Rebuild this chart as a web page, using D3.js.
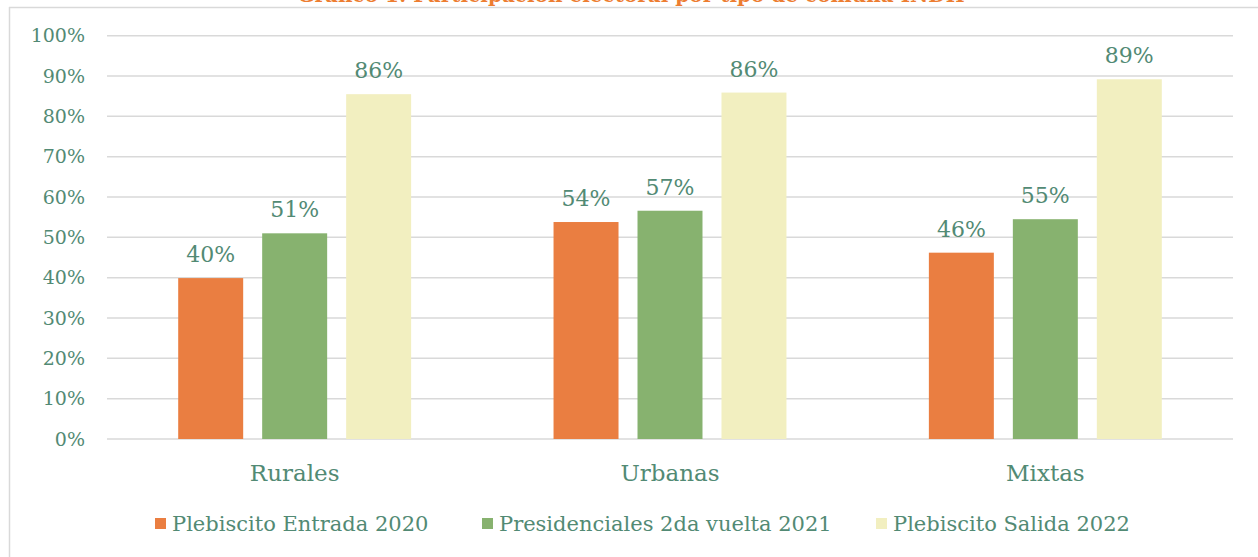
<!DOCTYPE html>
<html>
<head>
<meta charset="utf-8">
<script src="https://cdn.jsdelivr.net/npm/d3@7"></script>
<style>
  html, body { margin: 0; padding: 0; background: #fff; }
  svg { display: block; }
  text { font-family: Georgia, "DejaVu Serif", serif; }
</style>
</head>
<body>
<div id="chart"></div>
<script>
// Gráfico 1: participación electoral por tipo de comuna

const categories = ["Rurales", "Urbanas", "Mixtas"];
const series = ["Plebiscito Entrada 2020", "Presidenciales 2da vuelta 2021", "Plebiscito Salida 2022"];
const entrada2020 = [0.399, 0.538, 0.462];
const presidenciales2021 = [0.510, 0.566, 0.545];
const salida2022 = [0.855, 0.859, 0.892];
const yTicks = [0, 0.1, 0.2, 0.3, 0.4, 0.5, 0.6, 0.7, 0.8, 0.9, 1];

const colors = ["#EA7E41", "#87B26F", "#F2EFC0"];
const textColor = "#528A74";

const W = 1258, H = 557;
const plot = { left: 107, right: 1233, top: 35.7, bottom: 439 };

const values = [entrada2020, presidenciales2021, salida2022];
const rows = [];
categories.forEach((c, i) => {
    series.forEach((s, j) => rows.push({ cat: c, ser: s, idx: j, v: values[j][i] }));
});

const svg = d3.select("#chart").append("svg")
    .attr("width", W)
    .attr("height", H);

// frame (top + left border of the chart area)
svg.append("line")
    .attr("x1", 9).attr("x2", W).attr("y1", 7.5).attr("y2", 7.5)
    .attr("stroke", "#d9d9d9").attr("stroke-width", 1.5);
svg.append("line")
    .attr("x1", 9.5).attr("x2", 9.5).attr("y1", 7).attr("y2", H)
    .attr("stroke", "#d9d9d9").attr("stroke-width", 1.5);

// title, mostly cut off at the top edge (as in the source)
svg.append("text")
    .attr("x", 631).attr("y", 2)
    .attr("text-anchor", "middle")
    .attr("fill", "#ED7D31")
    .style("font-size", "20px")
    .style("font-weight", "bold")
    .text("Gráfico 1: Participación electoral por tipo de comuna INDH");

// scales
const x0 = d3.scaleBand()
    .domain(categories)
    .range([plot.left, plot.right]);

const x1 = d3.scaleBand()
    .domain(series)
    .range([71.2, x0.bandwidth() - 71.2])
    .paddingInner(19 / 84);

const y = d3.scaleLinear()
    .domain([0, 1])
    .range([plot.bottom, plot.top]);

// gridlines
svg.append("g")
    .selectAll("line")
    .data(yTicks)
    .join("line")
    .attr("x1", plot.left).attr("x2", plot.right)
    .attr("y1", d => y(d)).attr("y2", d => y(d))
    .attr("stroke", "#d9d9d9")
    .attr("stroke-width", 1.5);

// y axis labels
const yAxis = svg.append("g")
    .attr("transform", "translate(85,0)")
    .call(d3.axisLeft(y).tickValues(yTicks).tickFormat(d3.format(".0%")).tickSize(0).tickPadding(0));
yAxis.select(".domain").remove();
yAxis.selectAll("text")
    .attr("fill", textColor)
    .style("font-size", "19px")
    .style("font-family", "Georgia, 'DejaVu Serif', serif");

// bars
const groups = svg.append("g")
    .selectAll("g")
    .data(categories)
    .join("g")
    .attr("transform", d => `translate(${x0(d)},0)`);

groups.selectAll("rect")
    .data(c => rows.filter(r => r.cat === c))
    .join("rect")
    .attr("x", d => x1(d.ser))
    .attr("width", x1.bandwidth())
    .attr("y", d => y(d.v))
    .attr("height", d => y(0) - y(d.v))
    .attr("fill", d => colors[d.idx]);

// value labels
groups.selectAll("text")
    .data(c => rows.filter(r => r.cat === c))
    .join("text")
    .attr("x", d => x1(d.ser) + x1.bandwidth() / 2)
    .attr("y", d => y(d.v) - 16)
    .attr("text-anchor", "middle")
    .attr("fill", textColor)
    .style("font-size", "22px")
    .text(d => d3.format(".0%")(d.v));

// category labels
const xAxis = svg.append("g")
    .attr("transform", `translate(0,${plot.bottom})`)
    .call(d3.axisBottom(x0).tickSize(0).tickPadding(0));
xAxis.select(".domain").remove();
xAxis.selectAll("text")
    .attr("dy", 0)
    .attr("y", 42)
    .attr("fill", textColor)
    .style("font-size", "23px")
    .style("font-family", "Georgia, 'DejaVu Serif', serif");

// legend
const legendX = [155, 482, 876];
const legend = svg.append("g")
    .selectAll("g")
    .data(series)
    .join("g")
    .attr("transform", (d, i) => `translate(${legendX[i]},518)`);

legend.append("rect")
    .attr("width", 11).attr("height", 11)
    .attr("fill", (d, i) => colors[i]);

legend.append("text")
    .attr("x", 17).attr("y", 13)
    .attr("fill", textColor)
    .style("font-size", "21px")
    .text(d => d);
</script>
</body>
</html>
